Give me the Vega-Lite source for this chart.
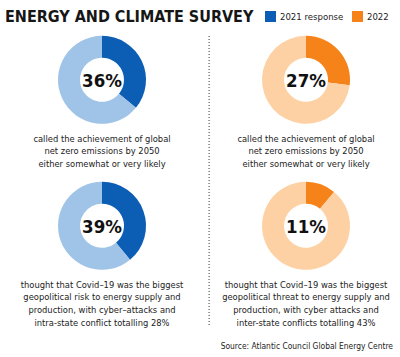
{
  "$schema": "https://vega.github.io/schema/vega-lite/v6.json",
  "autosize": "none",
  "width": 400,
  "height": 289,
  "padding": {"top": 36, "left": 0, "right": 0, "bottom": 32},
  "background": "white",
  "title": {
    "text": "ENERGY AND CLIMATE SURVEY",
    "anchor": "start",
    "frame": "group",
    "font": "DejaVu Sans Condensed, sans-serif",
    "fontSize": 16,
    "fontWeight": "bold",
    "color": "#161616",
    "dx": 5,
    "offset": -14
  },
  "datasets": {
    "arcs": [
      {"year": "2021", "question": "q1", "segment": "2021 response", "start": 0, "end": 36},
      {"year": "2021", "question": "q1", "segment": "2021 rest", "start": 36, "end": 100},
      {"year": "2022", "question": "q1", "segment": "2022", "start": 0, "end": 27},
      {"year": "2022", "question": "q1", "segment": "2022 rest", "start": 27, "end": 100},
      {"year": "2021", "question": "q2", "segment": "2021 response", "start": 0, "end": 39},
      {"year": "2021", "question": "q2", "segment": "2021 rest", "start": 39, "end": 100},
      {"year": "2022", "question": "q2", "segment": "2022", "start": 0, "end": 11},
      {"year": "2022", "question": "q2", "segment": "2022 rest", "start": 11, "end": 100}
    ],
    "labels": [
      {"year": "2021", "question": "q1", "pct": "36%", "caption": "called the achievement of global\nnet zero emissions by 2050\neither somewhat or very likely"},
      {"year": "2022", "question": "q1", "pct": "27%", "caption": "called the achievement of global\nnet zero emissions by 2050\neither somewhat or very likely"},
      {"year": "2021", "question": "q2", "pct": "39%", "caption": "thought that Covid–19 was the biggest\ngeopolitical risk to energy supply and\nproduction, with cyber–attacks and\nintra-state conflict totalling 28%"},
      {"year": "2022", "question": "q2", "pct": "11%", "caption": "thought that Covid–19 was the biggest\ngeopolitical threat to energy supply and\nproduction, with cyber attacks and\ninter-state conflicts totalling 43%"}
    ],
    "divider": [{"year": "2022"}],
    "source": [{"text": "Source: Atlantic Council Global Energy Centre"}]
  },
  "layer": [
    {
      "data": {"name": "divider"},
      "mark": {"type": "rule", "stroke": "#333333", "strokeWidth": 1, "strokeDash": [1, 2]},
      "encoding": {
        "x": {"field": "year", "type": "nominal", "bandPosition": 0.025, "scale": {"type": "band", "domain": ["2021", "2022"], "range": [0, 408], "paddingInner": 0, "paddingOuter": 0}, "axis": null}
      }
    },
    {
      "data": {"name": "arcs"},
      "mark": {"type": "arc", "innerRadius": 22, "outerRadius": 44},
      "encoding": {
        "x": {"field": "year", "type": "nominal", "axis": null},
        "y": {"field": "question", "type": "nominal", "bandPosition": 0.3, "scale": {"type": "band", "domain": ["q1", "q2"], "range": [0, 292], "paddingInner": 0, "paddingOuter": 0}, "axis": null},
        "theta": {"field": "start", "type": "quantitative", "stack": null, "scale": {"type": "linear", "domain": [0, 100], "range": [0, 6.283185307]}},
        "theta2": {"field": "end"},
        "color": {
          "field": "segment",
          "type": "nominal",
          "scale": {"domain": ["2021 response", "2022", "2021 rest", "2022 rest"], "range": ["#0b5eb4", "#f6821a", "#a0c4e7", "#fdd1a3"]},
          "legend": {
            "values": ["2021 response", "2022"],
            "orient": "none",
            "legendX": 265,
            "legendY": -25,
            "direction": "horizontal",
            "title": null,
            "symbolType": "square",
            "symbolSize": 121,
            "symbolStrokeWidth": 0,
            "labelFontSize": 9.5,
            "labelFont": "DejaVu Sans Condensed, sans-serif",
            "labelColor": "#222222",
            "labelOffset": 4,
            "columnPadding": 8
          }
        }
      }
    },
    {
      "data": {"name": "labels"},
      "mark": {"type": "text", "fontSize": 18.5, "fontWeight": "bold", "baseline": "alphabetic", "align": "center", "dy": 7, "color": "#111111", "font": "DejaVu Sans Condensed, sans-serif"},
      "encoding": {
        "x": {"field": "year", "type": "nominal", "axis": null},
        "y": {"field": "question", "type": "nominal", "bandPosition": 0.3, "axis": null},
        "text": {"field": "pct"}
      }
    },
    {
      "data": {"name": "labels"},
      "mark": {"type": "text", "fontSize": 9.3, "baseline": "alphabetic", "align": "center", "dy": 62, "lineBreak": "\n", "lineHeight": 12.7, "color": "#222222", "font": "DejaVu Sans Condensed, sans-serif"},
      "encoding": {
        "x": {"field": "year", "type": "nominal", "axis": null},
        "y": {"field": "question", "type": "nominal", "bandPosition": 0.3, "axis": null},
        "text": {"field": "caption"}
      }
    },
    {
      "data": {"name": "source"},
      "mark": {"type": "text", "fontSize": 8.4, "baseline": "alphabetic", "align": "right", "dx": -7, "dy": 24, "color": "#222222", "font": "DejaVu Sans Condensed, sans-serif"},
      "encoding": {
        "x": {"value": "width"},
        "y": {"value": "height"},
        "text": {"field": "text"}
      }
    }
  ],
  "config": {"view": {"stroke": null}}
}
